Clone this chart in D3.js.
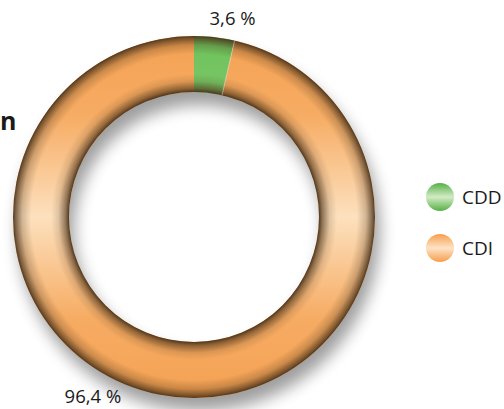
<!DOCTYPE html>
<html><head><meta charset="utf-8">
<script src="https://cdn.jsdelivr.net/npm/d3@7/dist/d3.min.js"></script>
<style>html,body{margin:0;padding:0;background:#fff;overflow:hidden}svg{display:block}</style>
</head><body>
<svg id="c" width="504" height="409"></svg>
<script>
const categories = ["CDD", "CDI"];
const values = [3.6, 96.4];
const valueLabels = ["3,6 %", "96,4 %"];
const titleText = "n";

const baseColors = {CDD: "#6dc25b", CDI: "#f5a253"};
const legendGrad = {CDD: ["#55b046", "#d3ecc6"], CDI: ["#f69e4d", "#fde3c6"]};

const W = 504, H = 409;
const cx = 194, cy = 217, R = 181, r0 = 125;
const svg = d3.select("#c");
const defs = svg.append("defs");

// shadow filter
const f = defs.append("filter").attr("id", "sh").attr("x", "-20%").attr("y", "-20%").attr("width", "140%").attr("height", "140%");
f.append("feGaussianBlur").attr("stdDeviation", 8);

// cream band gradient (vertical), in the ring's local coords
const lg = defs.append("linearGradient").attr("id", "band").attr("gradientUnits", "userSpaceOnUse")
  .attr("x1", 0).attr("y1", -R).attr("x2", 0).attr("y2", R);
[[0, 0], [0.22, 0.12], [0.5, 0.78], [0.78, 0.12], [1, 0]].forEach(([o, a]) =>
  lg.append("stop").attr("offset", o).attr("stop-color", "#fff2dc").attr("stop-opacity", a));

// edge darkening (radial)
const rg = defs.append("radialGradient").attr("id", "edge").attr("gradientUnits", "userSpaceOnUse")
  .attr("cx", 0).attr("cy", 0).attr("r", R);
const k = r0 / R;
[[k, 0.95], [k + 0.02, 0.6], [k + 0.06, 0.15], [k + 0.1, 0], [0.9, 0], [0.95, 0.25], [0.985, 0.7], [1, 0.95]].forEach(([o, a]) =>
  rg.append("stop").attr("offset", o).attr("stop-color", "#4a3219").attr("stop-opacity", a));

// legend gradients
categories.forEach(c => {
  const g = defs.append("linearGradient").attr("id", "lg" + c).attr("x1", 0).attr("y1", 0).attr("x2", 0).attr("y2", 1);
  g.append("stop").attr("offset", 0).attr("stop-color", legendGrad[c][0]);
  g.append("stop").attr("offset", 0.5).attr("stop-color", legendGrad[c][1]);
  g.append("stop").attr("offset", 1).attr("stop-color", legendGrad[c][0]);
});

const pie = d3.pie().sort(null).value(d => d.v);
const data = categories.map((c, i) => ({c, v: values[i], label: valueLabels[i]}));
const arcs = pie(data);
const arc = d3.arc().innerRadius(r0).outerRadius(R);
const ring = d3.arc().innerRadius(r0).outerRadius(R).startAngle(0).endAngle(2 * Math.PI);

const g = svg.append("g").attr("transform", `translate(${cx},${cy})`);
// shadow
g.append("path").attr("d", ring()).attr("fill", "#000").attr("opacity", 0.38)
  .attr("transform", "translate(5,13)").attr("filter", "url(#sh)");
// slices
g.selectAll("path.s").data(arcs).join("path").attr("class", "s")
  .attr("d", arc).attr("fill", d => baseColors[d.data.c]);
// overlays
g.append("path").attr("d", ring()).attr("fill", "url(#band)");
g.append("path").attr("d", ring()).attr("fill", "url(#edge)");
// separator line
g.selectAll("line.sep").data(arcs.slice(0, 1)).join("line").attr("class", "sep")
  .attr("x1", d => r0 * Math.sin(d.endAngle)).attr("y1", d => -r0 * Math.cos(d.endAngle))
  .attr("x2", d => R * Math.sin(d.endAngle)).attr("y2", d => -R * Math.cos(d.endAngle))
  .attr("stroke", "#fff").attr("stroke-opacity", 0.5).attr("stroke-width", 0.8);

// value labels
const labelRadius = [202, 206];
const labelShift = [0.079, 0.40];
g.selectAll("text.v").data(arcs).join("text").attr("class", "v")
  .each(function (d, i) {
    const a = (d.startAngle + d.endAngle) / 2 + labelShift[i];
    d3.select(this).attr("x", labelRadius[i] * Math.sin(a)).attr("y", -labelRadius[i] * Math.cos(a));
  })
  .attr("dy", "0.36em").attr("text-anchor", "middle")
  .attr("font-family", "Open Sans, sans-serif").attr("font-size", 18.5).attr("fill", "#1a1a1a")
  .text(d => d.data.label);

// title fragment
svg.append("text").attr("x", 0).attr("y", 130).attr("text-anchor", "start")
  .attr("font-family", "Open Sans, sans-serif").attr("font-weight", "bold").attr("font-size", 25)
  .attr("fill", "#1a1a1a").text(titleText);

// legend
const ly = d3.scalePoint().domain(categories).range([197, 248]);
const leg = svg.append("g");
leg.selectAll("circle").data(categories).join("circle")
  .attr("cx", 440).attr("cy", d => ly(d)).attr("r", 14).attr("fill", d => `url(#lg${d})`);
leg.selectAll("text").data(categories).join("text")
  .attr("x", 462).attr("y", d => ly(d)).attr("dy", "0.36em")
  .attr("font-family", "Open Sans, sans-serif").attr("font-size", 19).attr("fill", "#1a1a1a").text(d => d);
</script>
</body></html>
